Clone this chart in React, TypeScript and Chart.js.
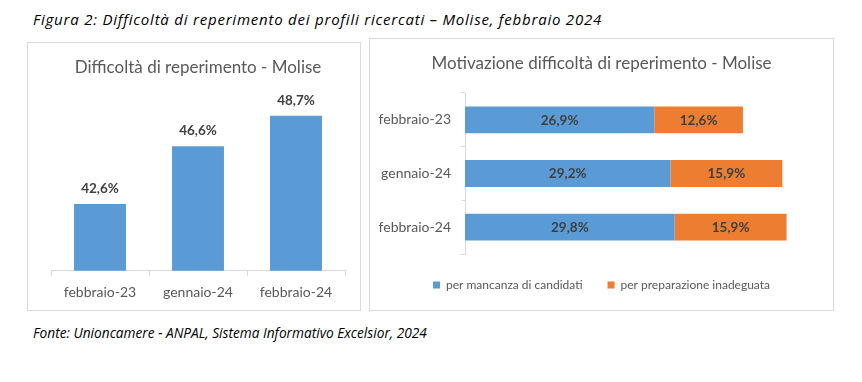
import React, { useEffect, useRef } from "react";
import { Chart, registerables } from "chart.js";

Chart.register(...registerables);

const FONT = "Lato, 'Open Sans', sans-serif";
const NOTE_FONT = "'Open Sans', Lato, sans-serif";

// ---- data ----
const leftCategories = ["febbraio-23", "gennaio-24", "febbraio-24"];
const leftValues = [42.6, 46.6, 48.7];

const rightCategories = ["febbraio-23", "gennaio-24", "febbraio-24"];
const mancanzaValues = [26.9, 29.2, 29.8];
const preparazioneValues = [12.6, 15.9, 15.9];
const seriesLabels = ["per mancanza di candidati", "per preparazione inadeguata"];

const figureTitle = "Figura 2: Difficoltà di reperimento dei profili ricercati – Molise, febbraio 2024";
const leftTitle = "Difficoltà di reperimento - Molise";
const rightTitle = "Motivazione difficoltà di reperimento - Molise";
const sourceNote = "Fonte: Unioncamere - ANPAL, Sistema Informativo Excelsior, 2024";

const BLUE = "#5b9bd5";
const ORANGE = "#ed7d31";
const TEXT = "#595959";
const LABEL = "#404040";
const AXIS = "#d9d9d9";

const fmt = (v: number) => v.toFixed(1).replace(".", ",") + "%";

const topLabels = {
  id: "topLabels",
  afterDatasetsDraw(chart: any) {
    const ctx = chart.ctx;
    chart.data.datasets.forEach((ds: any, di: number) => {
      const meta = chart.getDatasetMeta(di);
      meta.data.forEach((el: any, i: number) => {
        ctx.save();
        ctx.font = `bold 13.5px ${FONT}`;
        ctx.fillStyle = LABEL;
        ctx.textAlign = "center";
        ctx.textBaseline = "middle";
        ctx.fillText(fmt(ds.data[i]), el.x, el.y - 15.5);
        ctx.restore();
      });
    });
  },
};

const centerLabels = {
  id: "centerLabels",
  afterDatasetsDraw(chart: any) {
    const ctx = chart.ctx;
    chart.data.datasets.forEach((ds: any, di: number) => {
      const meta = chart.getDatasetMeta(di);
      meta.data.forEach((el: any, i: number) => {
        ctx.save();
        ctx.font = `bold 13.5px ${FONT}`;
        ctx.fillStyle = LABEL;
        ctx.textAlign = "center";
        ctx.textBaseline = "middle";
        ctx.fillText(fmt(ds.data[i]), (el.x + el.base) / 2, el.y + 0.5);
        ctx.restore();
      });
    });
  },
};

function LeftChart() {
  const ref = useRef<HTMLCanvasElement>(null);
  useEffect(() => {
    const chart = new Chart(ref.current as HTMLCanvasElement, {
      type: "bar",
      data: {
        labels: leftCategories,
        datasets: [
          {
            data: leftValues,
            backgroundColor: BLUE,
            barPercentage: 0.53,
            categoryPercentage: 1,
          },
        ],
      },
      options: {
        animation: false,
        responsive: false,
        devicePixelRatio: 1,
        layout: { padding: { left: 23, right: 15, top: 0, bottom: 1.5 } },
        plugins: {
          legend: { display: false },
          tooltip: { enabled: false },
          title: {
            display: true,
            text: leftTitle,
            color: TEXT,
            font: { family: FONT, size: 17, weight: "normal" },
            padding: { top: 14, bottom: 19.6 },
          },
        },
        scales: {
          x: {
            grid: { drawOnChartArea: false, drawTicks: true, tickLength: 5, color: AXIS },
            border: { display: true, color: AXIS },
            ticks: { color: TEXT, font: { family: FONT, size: 14 }, padding: 8 },
          },
          y: { display: false, min: 38, max: 50 },
        },
      } as any,
      plugins: [topLabels],
    });
    return () => chart.destroy();
  }, []);
  return <canvas ref={ref} width={332} height={267} style={{ display: "block" }} />;
}

function RightChart() {
  const ref = useRef<HTMLCanvasElement>(null);
  useEffect(() => {
    const chart = new Chart(ref.current as HTMLCanvasElement, {
      type: "bar",
      data: {
        labels: rightCategories,
        datasets: [
          {
            label: seriesLabels[0],
            data: mancanzaValues,
            backgroundColor: BLUE,
            barPercentage: 0.5,
            categoryPercentage: 1,
          },
          {
            label: seriesLabels[1],
            data: preparazioneValues,
            backgroundColor: ORANGE,
            barPercentage: 0.5,
            categoryPercentage: 1,
          },
        ],
      },
      options: {
        animation: false,
        responsive: false,
        devicePixelRatio: 1,
        indexAxis: "y",
        layout: { padding: { left: 0, right: 0, top: 0, bottom: 9 } },
        plugins: {
          tooltip: { enabled: false },
          legend: {
            position: "bottom",
            labels: {
              boxWidth: 7,
              boxHeight: 7,
              padding: 25,
              color: TEXT,
              font: { family: FONT, size: 12 },
            },
          },
          title: {
            display: true,
            text: rightTitle,
            color: TEXT,
            font: { family: FONT, size: 17, weight: "normal" },
            padding: { top: 14.5, bottom: 19.1 },
          },
        },
        scales: {
          x: { display: false, stacked: true, min: 0, max: 52.3 },
          y: {
            stacked: true,
            grid: { drawOnChartArea: false, drawTicks: true, tickLength: 4, color: AXIS },
            border: { display: true, color: AXIS },
            ticks: { color: TEXT, font: { family: FONT, size: 14 }, padding: 10 },
            afterFit: (s: any) => {
              s.width = 95;
            },
          },
        },
      } as any,
      plugins: [centerLabels],
    });
    return () => chart.destroy();
  }, []);
  return <canvas ref={ref} width={463} height={271} style={{ display: "block" }} />;
}

export default function App() {
  return (
    <div
      style={{
        position: "absolute",
        left: 0,
        top: 0,
        width: 862,
        height: 382,
        background: "#fff",
        fontFamily: FONT,
        color: "#000",
      }}
    >
      <div
        style={{
          position: "absolute",
          left: 33,
          top: 9,
          fontFamily: NOTE_FONT,
          fontStyle: "italic",
          fontSize: 15,
          letterSpacing: "0.78px",
          whiteSpace: "nowrap",
          lineHeight: "20px",
        }}
      >
        {figureTitle}
      </div>
      <div
        style={{
          position: "absolute",
          left: 27,
          top: 42,
          width: 334,
          height: 269,
          border: `1px solid ${AXIS}`,
          boxSizing: "border-box",
        }}
      >
        <LeftChart />
      </div>
      <div
        style={{
          position: "absolute",
          left: 369,
          top: 38,
          width: 465,
          height: 273,
          border: `1px solid ${AXIS}`,
          boxSizing: "border-box",
        }}
      >
        <RightChart />
      </div>
      <div
        style={{
          position: "absolute",
          left: 33,
          top: 324,
          fontFamily: NOTE_FONT,
          fontStyle: "italic",
          fontSize: 13.7,
          whiteSpace: "nowrap",
          lineHeight: "18px",
        }}
      >
        {sourceNote}
      </div>
    </div>
  );
}
